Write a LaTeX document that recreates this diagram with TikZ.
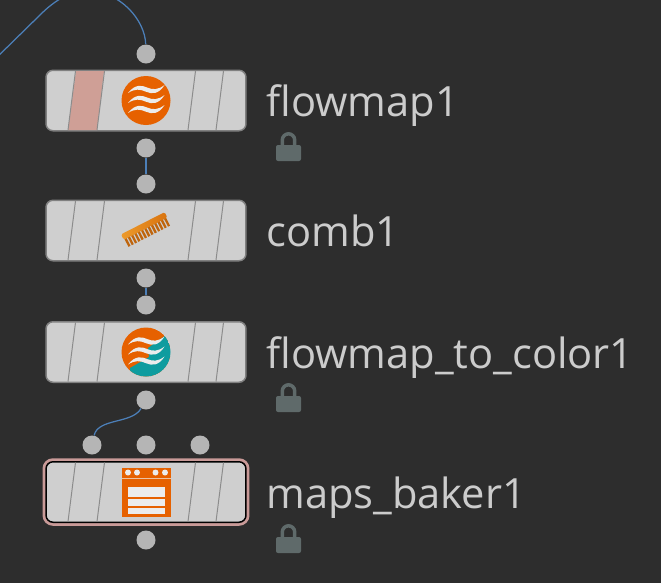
\documentclass[tikz,border=0pt]{standalone}
\usepackage{fontspec}
\setmainfont{Open Sans}
\usepackage{xcolor}
\usetikzlibrary{calc, positioning}

\definecolor{bgdark}{HTML}{2D2D2D}
\definecolor{bodygray}{HTML}{CFCFCF}
\definecolor{edgegray}{HTML}{808080}
\definecolor{slashgray}{HTML}{8C8C8C}
\definecolor{dotgray}{HTML}{B5B5B5}
\definecolor{wireblue}{HTML}{4C7FB8}
\definecolor{textgray}{HTML}{CCCCCC}
\definecolor{lockgray}{HTML}{5F6A6A}
\definecolor{bandpink}{HTML}{CF9F96}
\definecolor{hiliteplum}{HTML}{C99A98}
\definecolor{iconorange}{HTML}{E66100}
\definecolor{iconteal}{HTML}{0E9C9F}
\definecolor{iconwhite}{HTML}{ECECEC}
\definecolor{combdark}{HTML}{D9730F}
\definecolor{comblight}{HTML}{EC9A2C}

\tikzset{
    bodybox/.style={draw=edgegray, fill=bodygray, line width=0.03cm, rounded corners=0.14cm,
        minimum width=4cm, minimum height=1.21cm, inner sep=0pt},
    dot/.style={circle, fill=dotgray, minimum size=0.38cm, inner sep=0pt},
    wire/.style={draw=wireblue, line width=0.025cm},
    namelabel/.style={anchor=base west, inner sep=0pt, text=textgray, font=\fontsize{23.7}{24}\selectfont},
    wavestroke/.pic={
        \fill[iconwhite] (-18,2.5) .. controls (-11,-6.5) and (-4,-5.5) .. (1,-3)
            .. controls (7,-0.5) and (12,-0.5) .. (18.5,-5.5)
            .. controls (13,3.5) and (6,4) .. (0,1.2)
            .. controls (-6,-1.5) and (-11,-2) .. (-18,2.5) -- cycle;
    },
    lockicon/.pic={
        \draw[lockgray, line width=0.07cm] (-6.2,15) -- (-6.2,8) arc[start angle=180, end angle=360, radius=6.2] -- (6.2,15);
        \fill[lockgray, rounded corners=0.04cm] (-12.5,13) rectangle (12.5,29);
    }
}

\begin{document}
\begin{tikzpicture}[x=0.02cm, y=-0.02cm]

    % =================================================================
    % 1. NỀN
    % =================================================================
    \fill[bgdark] (0,0) rectangle (661,583);
    \useasboundingbox (0,0) rectangle (661,583);
    \clip (0,0) rectangle (661,583);

    % =================================================================
    % 2. CÁC KHỐI
    % =================================================================
    \node[bodybox] (flowmap) at (146,100.5) {};
    \node[bodybox] (comb) at (146,230.5) {};
    \node[bodybox] (flowcolor) at (146,352) {};
    \node[bodybox, draw=black, preaction={draw=hiliteplum, line width=0.14cm}] (baker) at (146,492) {};

    % Dải hồng trên khối đầu
    \fill[bandpink] (76,71) -- (104,71) -- (97,130) -- (68,130) -- cycle;

    % Các vạch xiên
    \foreach \body in {flowmap, comb, flowcolor, baker} {
        \begin{scope}[shift={(\body.center)}]
            \foreach \xbot in {-78, -49, 42, 70}
                \draw[slashgray, line width=0.02cm] (\xbot,29.5) -- ({\xbot+7.5},-29.5);
        \end{scope}
    }

    % =================================================================
    % 3. CÁC CỔNG
    % =================================================================
    \node[dot] (flowin) at (146,54) {};
    \node[dot] (flowout) at (146,148) {};
    \node[dot] (combin) at (146,184) {};
    \node[dot] (combout) at (146,278) {};
    \node[dot] (colorin) at (146,305) {};
    \node[dot] (colorout) at (146,400) {};
    \node[dot] (bakerina) at (92,445) {};
    \node[dot] (bakerinb) at (146,445) {};
    \node[dot] (bakerinc) at (200,445) {};
    \node[dot] (bakerout) at (146,540) {};

    % =================================================================
    % 4. CÁC DÂY NỐI
    % =================================================================
    \coordinate (wirefar) at (-12,66);
    \coordinate (wirebend) at (40,15);
    \coordinate (wiretop) at (88,-9);
    \draw[wire] (wirefar) -- (wirebend) .. controls (55,0) and (70,-9) .. (wiretop)
        .. controls (120,-9) and (145,20) .. (flowin);
    \draw[wire] (flowout) -- (combin);
    \draw[wire] (combout) -- (colorin);
    \draw[wire] (colorout) .. controls (132,424) and (98,418) .. (bakerina);

    % =================================================================
    % 5. BIỂU TƯỢNG
    % =================================================================
    % Sóng cam
    \fill[iconorange] (flowmap.center) circle (24.5);
    \foreach \yy in {-10, 0, 10}
        \pic at ($(flowmap.center)+(0,\yy)$) {wavestroke};

    % Lược
    \begin{scope}[shift={(146,229.5)}, rotate=27]
        \foreach \tx in {-23.5,-19.8,...,22}
            \fill[combdark!88!black] (\tx,-2) rectangle ++(2.3,9.5);
        \shade[left color=comblight, right color=combdark, rounded corners=0.03cm]
            (-24.5,-7) -- (24.5,-7) -- (24.5,-1) -- (-24.5,-1) -- cycle;
    \end{scope}

    % Sóng cam - xanh
    \begin{scope}
        \clip (flowcolor.center) circle (24.5);
        \fill[iconorange] (flowcolor.center) circle (24.5);
        \fill[iconteal] (130,368) -- (149,357) -- (148,348) -- (166,335) -- (175,360) -- (160,385) -- (130,385) -- cycle;
    \end{scope}
    \foreach \yy in {-10, 0, 10}
        \pic at ($(flowcolor.center)+(0,\yy)$) {wavestroke};

    % Lò nướng
    \fill[iconorange] (122,468) rectangle (171,517);
    \foreach \bx in {128, 137, 155.5, 165}
        \fill[iconwhite] (\bx,472.5) circle (3);
    \draw[iconwhite!70!iconorange, line width=0.02cm] (122,478) -- (171,478);
    \fill[iconwhite] (128,487) rectangle (165,497);
    \fill[iconwhite] (128,499) rectangle (165,506);
    \fill[iconwhite] (128,508) rectangle (165,514);

    % =================================================================
    % 6. NHÃN VÀ Ổ KHÓA
    % =================================================================
    \node[namelabel] (flowmapname) at (266,116) {flowmap1};
    \node[namelabel] (combname) at (266,246) {comb1};
    \node[namelabel] (flowcolorname) at (266,368) {flowmap\_to\_color1};
    \node[namelabel] (bakername) at (266,508) {maps\_baker1};

    \pic at (288.5,132) {lockicon};
    \pic at (288.5,383) {lockicon};
    \pic at (288.5,524) {lockicon};

\end{tikzpicture}
\end{document}
